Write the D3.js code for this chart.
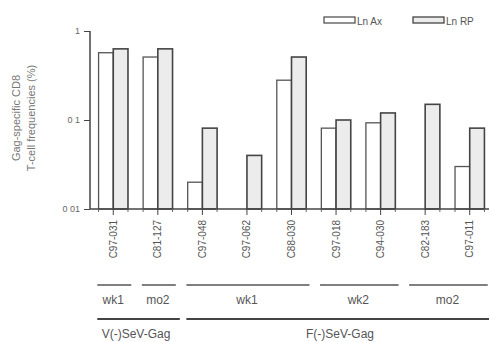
<!DOCTYPE html>
<meta charset="utf-8">
<style>
body { margin: 0; background: #fff; }
text {
  font-family: "Liberation Sans", Arial, sans-serif;
  fill: #555;
}
</style>
<svg width="489" height="342"></svg>
<script src="https://cdn.jsdelivr.net/npm/d3@7"></script>
<script>

var animals = ["C97-031", "C81-127", "C97-048", "C97-062", "C88-030", "C97-018", "C94-030", "C82-183", "C97-011"];
var lnAx = [0.57, 0.51, 0.020, null, 0.28, 0.081, 0.093, null, 0.030];
var lnRP = [0.63, 0.63, 0.081, 0.040, 0.51, 0.10, 0.12, 0.15, 0.081];
var yTicks = [1, 0.1, 0.01];
var yTickLabels = ["1", "0 1", "0 01"];

// time-point groups (first/last animal index) and vector groups
var timeGroups = [
  {label: "wk1", from: 0, to: 0},
  {label: "mo2", from: 1, to: 1},
  {label: "wk1", from: 2, to: 4},
  {label: "wk2", from: 5, to: 6},
  {label: "mo2", from: 7, to: 8}
];
var vectorGroups = [
  {label: "V(-)SeV-Gag", from: 0, to: 1},
  {label: "F(-)SeV-Gag", from: 2, to: 8}
];

var svg = d3.select("svg");

var x = d3.scaleBand()
    .domain(animals)
    .range([91, 492]);

var y = d3.scaleLog()
    .domain([0.01, 1])
    .range([209, 31]);

var barW = x.bandwidth() * 0.33;
var center = function(i) { return x(animals[i]) + x.bandwidth() / 2; };

// bars
var g = svg.append("g");

g.selectAll(".ax")
    .data(lnAx.map(function(v, i) { return {v: v, i: i}; }).filter(function(d) { return d.v != null; }))
  .enter().append("rect")
    .attr("x", function(d) { return center(d.i) - barW; })
    .attr("y", function(d) { return y(d.v); })
    .attr("width", barW)
    .attr("height", function(d) { return y(0.01) - y(d.v); })
    .style("fill", "#fff")
    .style("stroke", "#555")
    .style("stroke-width", 1.3);

g.selectAll(".rp")
    .data(lnRP.map(function(v, i) { return {v: v, i: i}; }))
  .enter().append("rect")
    .attr("x", function(d) { return center(d.i); })
    .attr("y", function(d) { return y(d.v); })
    .attr("width", barW)
    .attr("height", function(d) { return y(0.01) - y(d.v); })
    .style("fill", "#ececec")
    .style("stroke", "#444")
    .style("stroke-width", 1.6);

// y axis
var yAxis = svg.append("g")
    .attr("transform", "translate(90,0)")
    .call(d3.axisLeft(y).tickValues(yTicks).tickSize(6).tickPadding(4)
      .tickFormat(function(d, i) { return yTickLabels[i]; }));
yAxis.select(".domain").attr("d", "M0," + y(1) + "V" + y(0.01)).style("stroke", "#444").style("stroke-width", 1.5);
yAxis.selectAll(".tick line").style("stroke", "#444");
yAxis.selectAll("text").style("font-size", "9px").style("fill", "#666");

// x axis
var xAxis = svg.append("g")
    .attr("transform", "translate(0," + y(0.01) + ")")
    .call(d3.axisBottom(x).tickSize(6).tickFormat(""));
xAxis.select(".domain").attr("d", "M90,0H489").style("stroke", "#444").style("stroke-width", 1.5);
xAxis.selectAll(".tick line").style("stroke", "#444");

// small marks under bar edges
var edges = [];
animals.forEach(function(a, i) {
  if (lnAx[i] != null) edges.push(center(i) - barW);
  edges.push(center(i) + barW);
});
svg.append("g").selectAll("line")
    .data(edges)
  .enter().append("line")
    .attr("x1", function(d) { return d; })
    .attr("x2", function(d) { return d; })
    .attr("y1", y(0.01))
    .attr("y2", y(0.01) + 3)
    .style("stroke", "#666");

// animal labels
svg.append("g").selectAll("text")
    .data(animals)
  .enter().append("text")
    .attr("transform", function(d, i) { return "translate(" + (center(i) + 3.5) + "," + 220 + ") rotate(-90)"; })
    .attr("text-anchor", "end")
    .style("font-size", "10px")
    .text(function(d) { return d; });

// time groups
var tg = svg.append("g");
tg.selectAll("line")
    .data(timeGroups)
  .enter().append("line")
    .attr("x1", function(d) { return center(d.from) - 16; })
    .attr("x2", function(d) { return center(d.to) + 18; })
    .attr("y1", 285).attr("y2", 285)
    .style("stroke", "#555").style("stroke-width", 1.4);
tg.selectAll("text")
    .data(timeGroups)
  .enter().append("text")
    .attr("x", function(d) { return (center(d.from) + center(d.to)) / 2; })
    .attr("y", 304)
    .attr("text-anchor", "middle")
    .style("font-size", "12px")
    .text(function(d) { return d.label; });

// vector groups
var vg = svg.append("g");
vg.selectAll("line")
    .data(vectorGroups)
  .enter().append("line")
    .attr("x1", function(d) { return center(d.from) - 16; })
    .attr("x2", function(d) { return center(d.to) + 22; })
    .attr("y1", 319).attr("y2", 319)
    .style("stroke", "#444").style("stroke-width", 2);
vg.selectAll("text")
    .data(vectorGroups)
  .enter().append("text")
    .attr("x", function(d, i) { return i == 0 ? 136 : 340; })
    .attr("y", 338)
    .attr("text-anchor", "middle")
    .style("font-size", "12px")
    .text(function(d) { return d.label; });

// y title
svg.append("text")
    .attr("transform", "translate(20,118) rotate(-90)")
    .attr("text-anchor", "middle")
    .style("font-size", "11px")
    .style("fill", "#777")
    .text("Gag-specific CD8");
svg.append("text")
    .attr("transform", "translate(35,118) rotate(-90)")
    .attr("text-anchor", "middle")
    .style("font-size", "11px")
    .style("fill", "#777")
    .text("T-cell frequencies (%)");

// legend
var legend = [
  {label: "Ln Ax", x: 324, fill: "#fff", stroke: "#555"},
  {label: "Ln RP", x: 413, fill: "#ececec", stroke: "#444"}
];
var lg = svg.append("g").selectAll("g")
    .data(legend)
  .enter().append("g")
    .attr("transform", function(d) { return "translate(" + d.x + ",17)"; });
lg.append("rect")
    .attr("width", 31).attr("height", 6)
    .style("fill", function(d) { return d.fill; })
    .style("stroke", function(d) { return d.stroke; })
    .style("stroke-width", 1.3);
lg.append("text")
    .attr("x", 33).attr("y", 7.5)
    .style("font-size", "10px")
    .text(function(d) { return d.label; });

</script>
